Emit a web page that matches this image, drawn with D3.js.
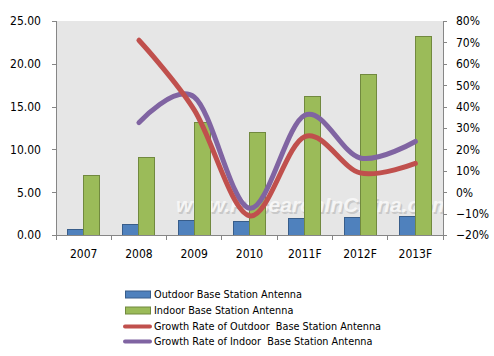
<!DOCTYPE html>
<html><head><meta charset="utf-8">
<script src="https://cdn.jsdelivr.net/npm/d3@7/dist/d3.min.js"></script>
<style>body{margin:0;background:#fff}svg{display:block}text{white-space:pre}</style>
</head><body>
<svg id="c" width="494" height="356"></svg>
<script>
const years = ["2007","2008","2009","2010","2011F","2012F","2013F"];
const outdoor = [0.7, 1.2, 1.65, 1.55, 1.9, 2.0, 2.2];
const indoor = [6.9, 9.0, 13.1, 12.0, 16.2, 18.8, 23.2];
const outdoorGrowth = [null, 0.71, 0.385, -0.11, 0.26, 0.09, 0.135];
const indoorGrowth = [null, 0.325, 0.445, -0.075, 0.36, 0.16, 0.237];
const leftTicks = [0, 5, 10, 15, 20, 25];
const rightTicks = [-0.2, -0.1, 0, 0.1, 0.2, 0.3, 0.4, 0.5, 0.6, 0.7, 0.8];
const seriesNames = ["Outdoor Base Station Antenna","Indoor Base Station Antenna","Growth Rate of Outdoor  Base Station Antenna","Growth Rate of Indoor  Base Station Antenna"];

const svg = d3.select("#c");
const L = 56, R = 443, T = 21, B = 235;
const font = "'DejaVu Sans Condensed','DejaVu Sans',sans-serif";
const axisColor = "#868686";

const x = d3.scaleBand().domain(years).range([L, R]).paddingInner(0).paddingOuter(0);
const yL = d3.scaleLinear().domain([0, 25]).range([B, T]);
const yR = d3.scaleLinear().domain([-0.2, 0.8]).range([B, T]);
const barW = 16;

svg.append("rect").attr("x", L).attr("y", T).attr("width", R - L).attr("height", B - T).attr("fill", "#e6e6e6");

// watermark (behind bars)
svg.append("clipPath").attr("id", "pc").append("rect").attr("x", L).attr("y", T).attr("width", R - L).attr("height", B - T);
const wm = svg.append("g").attr("clip-path", "url(#pc)");
wm.append("text").attr("x", 177.5).attr("y", 213.5).text("www.ResearchInChina.com")
  .attr("font-family", "'Liberation Sans',Arial,sans-serif").attr("font-weight", "bold").attr("font-style", "italic")
  .attr("font-size", 21).attr("fill", "#bdbdbd").attr("opacity", 0.7);
wm.append("text").attr("x", 176).attr("y", 212).text("www.ResearchInChina.com")
  .attr("font-family", "'Liberation Sans',Arial,sans-serif").attr("font-weight", "bold").attr("font-style", "italic")
  .attr("font-size", 21).attr("fill", "#f8f8f8").attr("opacity", 0.9);

// bars
const cx = d => x(d) + x.bandwidth() / 2;
svg.append("g").selectAll("rect").data(years).join("rect")
  .attr("x", d => cx(d) - barW).attr("width", barW)
  .attr("y", (d, i) => yL(outdoor[i])).attr("height", (d, i) => yL(0) - yL(outdoor[i]))
  .attr("fill", "#4f81bd").attr("stroke", "#385d8a").attr("stroke-width", 1).attr("shape-rendering", "crispEdges");
svg.append("g").selectAll("rect").data(years).join("rect")
  .attr("x", d => cx(d)).attr("width", barW)
  .attr("y", (d, i) => yL(indoor[i])).attr("height", (d, i) => yL(0) - yL(indoor[i]))
  .attr("fill", "#9bbb59").attr("stroke", "#71893f").attr("stroke-width", 1).attr("shape-rendering", "crispEdges");

// lines
function drawLine(vals, color) {
  svg.append("path").datum(years.filter((d, i) => vals[i] !== null))
    .attr("d", d3.line().x(d => cx(d)).y(d => yR(vals[years.indexOf(d)])).curve(d3.curveCardinal.tension(0)))
    .attr("fill", "none").attr("stroke", color).attr("stroke-width", 5).attr("stroke-linecap", "round");
}
drawLine(indoorGrowth, "#8064a2");
drawLine(outdoorGrowth, "#c0504d");

// axes
const gl = svg.append("g").attr("transform", `translate(${L},0)`)
  .call(d3.axisLeft(yL).tickValues(leftTicks).tickFormat(d3.format(".2f")).tickSize(4).tickPadding(11));
const gr = svg.append("g").attr("transform", `translate(${R},0)`)
  .call(d3.axisRight(yR).tickValues(rightTicks).tickFormat(d3.format(".0%")).tickSize(4).tickPadding(9));
const gb = svg.append("g").attr("transform", `translate(0,${B})`)
  .call(d3.axisBottom(x).tickSize(0).tickPadding(14));
svg.append("g").selectAll("line").data(d3.range(years.length + 1)).join("line")
  .attr("x1", i => L + i * x.bandwidth()).attr("x2", i => L + i * x.bandwidth())
  .attr("y1", B).attr("y2", B + 5).attr("stroke", axisColor).attr("shape-rendering", "crispEdges");
[gl, gr, gb].forEach(g => {
  g.select(".domain").attr("stroke", axisColor).attr("shape-rendering", "crispEdges");
  g.selectAll(".tick line").attr("stroke", axisColor).attr("shape-rendering", "crispEdges");
  g.selectAll("text").attr("font-family", font).attr("font-size", 12).attr("fill", "#000");
});
gl.select(".domain").attr("d", `M0,${B}V${T}`);
gr.select(".domain").attr("d", `M0,${B}V${T}`);
gb.select(".domain").attr("d", `M${L},0H${R}`);

// legend
const lg = svg.append("g");
const ly = [294.5, 310.5, 326.5, 341.5];
const cols = ["#4f81bd", "#9bbb59", "#c0504d", "#8064a2"];
const strokes = ["#385d8a", "#71893f"];
seriesNames.forEach((n, i) => {
  if (i < 2) {
    lg.append("rect").attr("x", 125.5).attr("y", ly[i] - 3.5).attr("width", 25).attr("height", 7)
      .attr("fill", cols[i]).attr("stroke", strokes[i]).attr("stroke-width", 1);
  } else {
    lg.append("line").attr("x1", 125).attr("x2", 150).attr("y1", ly[i]).attr("y2", ly[i])
      .attr("stroke", cols[i]).attr("stroke-width", 4).attr("stroke-linecap", "round");
  }
  lg.append("text").attr("x", 154).attr("y", ly[i]).attr("dy", "0.35em").text(n)
    .attr("font-family", font).attr("font-size", 10.8).attr("fill", "#000");
});
</script>
</body></html>
